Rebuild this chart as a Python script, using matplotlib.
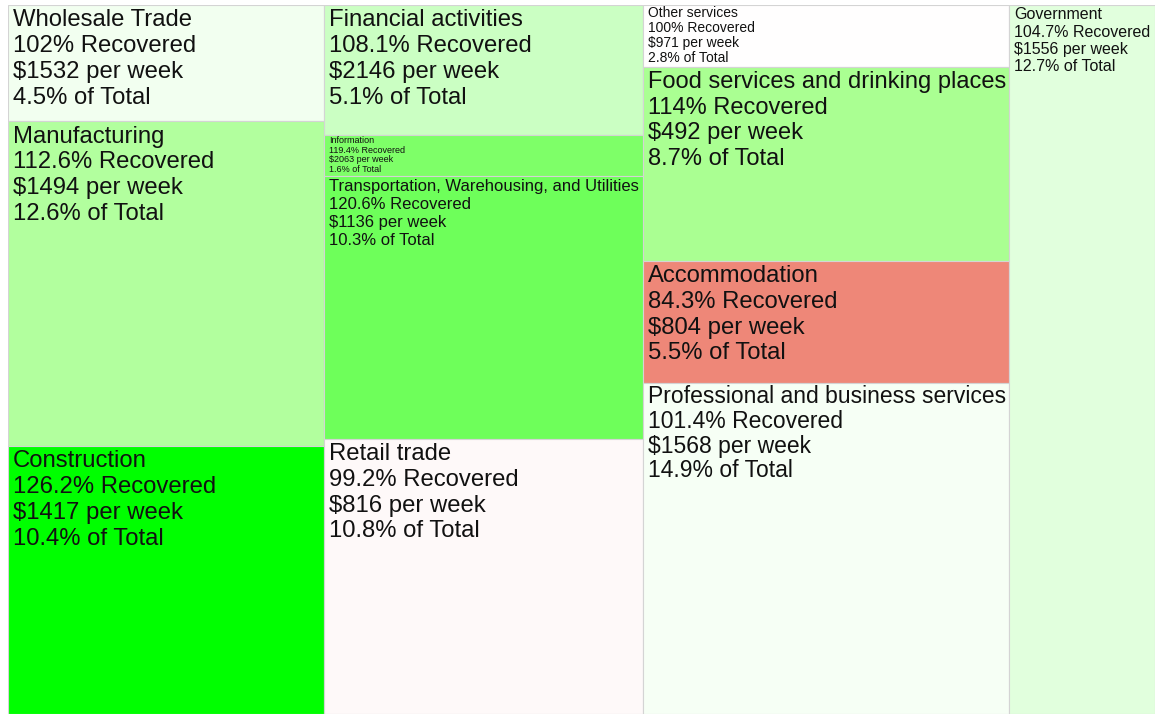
import matplotlib
matplotlib.use("Agg")
import matplotlib.pyplot as plt
from matplotlib.colors import LinearSegmentedColormap, Normalize
from matplotlib.patches import Rectangle
from matplotlib.transforms import ScaledTranslation

# sectors, grouped by treemap column (left to right, top to bottom)
sectors = [
    "Wholesale Trade", "Manufacturing", "Construction",
    "Financial activities", "Information",
    "Transportation, Warehousing, and Utilities", "Retail trade",
    "Other services", "Food services and drinking places", "Accommodation",
    "Professional and business services",
    "Government",
]
column = [0, 0, 0, 1, 1, 1, 1, 2, 2, 2, 2, 3]
recovered = [102, 112.6, 126.2, 108.1, 119.4, 120.6, 99.2, 100, 114, 84.3, 101.4, 104.7]
weekly_pay = [1532, 1494, 1417, 2146, 2063, 1136, 816, 971, 492, 804, 1568, 1556]
share = [4.5, 12.6, 10.4, 5.1, 1.6, 10.3, 10.8, 2.8, 8.7, 5.5, 14.9, 12.7]

# colour scale: red below 100% recovered, white at 100%, green above
lo, hi = min(recovered), max(recovered)
stops = [(lo, "#ee8778"), (100, "#ffffff"), (108, "#ccffc4"),
         (114, "#aaff92"), (120, "#7aff64"), (hi, "#00ff00")]
cmap = LinearSegmentedColormap.from_list(
    "recovery", [((v - lo) / (hi - lo), c) for v, c in stops])
norm = Normalize(lo, hi)

W, H = 1155, 717
fig = plt.figure(figsize=(W / 100, H / 100), dpi=100)
ax = fig.add_axes([8 / W, 3 / H, 1 - 8 / W, 709 / H])
ax.set_axis_off()

col_totals = {}
for c, s in zip(column, share):
    col_totals[c] = col_totals.get(c, 0) + s
total = sum(share)
ax.set_xlim(0, total)
ax.set_ylim(1, 0)

MAX_PT = 17.2
FIRST, STEP = 0.9, 1.08   # baseline offsets in em
renderer = fig.canvas.get_renderer()


def shift(dx, dy):
    # offset in pixels (dpi 100)
    return ax.transData + ScaledTranslation(dx / 100, -dy / 100, fig.dpi_scale_trans)


x0 = 0
for c in sorted(col_totals):
    width = col_totals[c]
    y0 = 0
    for i in [k for k in range(len(sectors)) if column[k] == c]:
        h = share[i] / col_totals[c]
        ax.add_patch(Rectangle((x0, y0), width, h, facecolor=cmap(norm(recovered[i])),
                               edgecolor="#d4d4d4", linewidth=0.8))
        lines = [sectors[i], f"{recovered[i]:g}% Recovered",
                 f"${weekly_pay[i]} per week", f"{share[i]}% of Total"]
        (px0, py0), (px1, py1) = ax.transData.transform([(x0, y0), (x0 + width, y0 + h)])
        bw, bh = abs(px1 - px0), abs(py1 - py0)

        # fit the text block into the box
        widest = 0
        for ln in lines:
            tmp = ax.text(0, 0, ln, fontsize=MAX_PT, family="Liberation Sans")
            widest = max(widest, tmp.get_window_extent(renderer).width)
            tmp.remove()
        em_max = MAX_PT * 100 / 72
        block_h = em_max * (FIRST + 3 * STEP + 0.2)
        scale = min(1, (bw - 10) / widest, (bh - 2) / block_h)
        fs = MAX_PT * scale
        em = fs * 100 / 72
        for j, ln in enumerate(lines):
            ax.text(x0, y0, ln, fontsize=fs, family="Liberation Sans", color="#111111",
                    va="baseline", ha="left",
                    transform=shift(5, em * (FIRST + STEP * j)))
        y0 += h
    x0 += width

fig.savefig("out.png", dpi=100)
